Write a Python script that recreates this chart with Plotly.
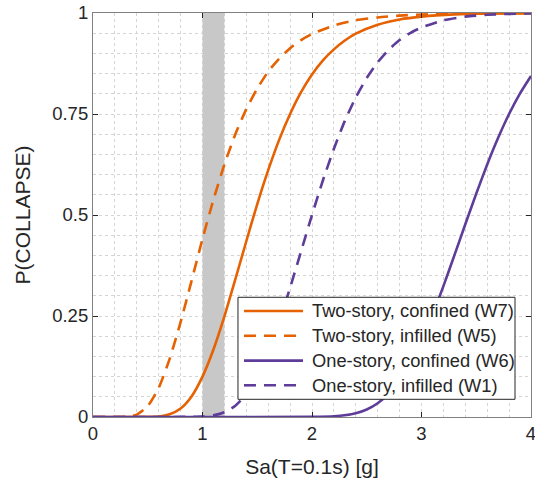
import plotly.graph_objects as go

# ---- data ----
x_w7 = [0.0, 0.5, 0.6, 0.7, 0.8, 0.9, 1.0, 1.1, 1.2, 1.3, 1.4, 1.5, 1.6, 1.7, 1.8, 1.9, 2.0,
        2.1, 2.2, 2.3, 2.4, 2.6, 2.8, 3.0, 3.3, 3.6, 4.0]
p_w7 = [0.0, 0.0002, 0.0014, 0.0067, 0.021, 0.051, 0.100, 0.167, 0.249, 0.341, 0.435, 0.527,
        0.611, 0.686, 0.750, 0.804, 0.848, 0.883, 0.910, 0.932, 0.949, 0.971, 0.984, 0.991,
        0.9965, 0.9986, 0.9996]

x_w5 = [0.0, 0.3, 0.4, 0.5, 0.6, 0.7, 0.8, 0.9, 1.0, 1.1, 1.2, 1.3, 1.4, 1.5, 1.6, 1.7, 1.8,
        1.9, 2.0, 2.2, 2.4, 2.6, 2.8, 3.0, 3.3, 3.6, 4.0]
p_w5 = [0.0, 0.0006, 0.006, 0.027, 0.072, 0.144, 0.235, 0.337, 0.441, 0.538, 0.625, 0.700,
        0.762, 0.813, 0.855, 0.887, 0.913, 0.933, 0.948, 0.969, 0.982, 0.989, 0.9936, 0.9962,
        0.998, 0.9991, 0.9997]

x_w6 = [0.0, 2.0, 2.2, 2.4, 2.5, 2.6, 2.7, 2.8, 2.9, 3.0, 3.1, 3.2, 3.3, 3.4, 3.5, 3.6, 3.7,
        3.8, 3.9, 4.0]
p_w6 = [0.0, 0.0002, 0.0017, 0.0094, 0.0187, 0.034, 0.058, 0.091, 0.135, 0.189, 0.253, 0.324,
        0.400, 0.477, 0.553, 0.625, 0.691, 0.750, 0.801, 0.844]

x_w1 = [0.0, 1.0, 1.1, 1.2, 1.3, 1.4, 1.5, 1.6, 1.7, 1.8, 1.9, 2.0, 2.1, 2.2, 2.3, 2.4, 2.5,
        2.6, 2.7, 2.8, 2.9, 3.0, 3.2, 3.4, 3.6, 3.8, 4.0]
p_w1 = [0.0, 0.001, 0.004, 0.0116, 0.028, 0.0565, 0.100, 0.161, 0.235, 0.320, 0.410, 0.500,
        0.586, 0.664, 0.733, 0.791, 0.839, 0.878, 0.909, 0.933, 0.951, 0.964, 0.982, 0.991,
        0.9955, 0.9978, 0.999]

names = ["Two-story, confined (W7)", "Two-story, infilled (W5)",
         "One-story, confined (W6)", "One-story, infilled (W1)"]
band = [1.0, 1.2]
y_tickvals = [0, 0.25, 0.5, 0.75, 1]
y_ticktext = ["0", "0.25", "0.5", "0.75", "1"]
x_tickvals = [0, 1, 2, 3, 4]

ORANGE = "#e66101"
PURPLE = "#5e3c99"
DASH = "12px,8px"
FONT = "Liberation Sans, Arial, sans-serif"
TXT = "#262626"

fig = go.Figure()
series = [(x_w7, p_w7, ORANGE, "solid"), (x_w5, p_w5, ORANGE, DASH),
          (x_w6, p_w6, PURPLE, "solid"), (x_w1, p_w1, PURPLE, DASH)]
for (xs, ps, col, dash), nm in zip(series, names):
    fig.add_trace(go.Scatter(x=xs, y=ps, mode="lines", name=nm, showlegend=False,
                             line=dict(color=col, width=2.6, dash=dash, shape="spline",
                                       smoothing=0.6),
                             cliponaxis=False, hoverinfo="skip"))

fig.add_shape(type="rect", xref="x", yref="y", x0=band[0], x1=band[1], y0=0, y1=1,
              fillcolor="#c8c8c8", line=dict(width=0), layer="between")

# ---- hand-built legend (paper coordinates) ----
lg_x0, lg_x1, lg_y0, lg_y1 = 0.331, 0.9635, 0.0438, 0.2963
row_y = [0.2624, 0.2010, 0.1396, 0.0785]
fig.add_shape(type="rect", xref="paper", yref="paper", x0=lg_x0, x1=lg_x1, y0=lg_y0, y1=lg_y1,
              fillcolor="white", line=dict(color=TXT, width=1), layer="above")
for (xs, ps, col, dash), nm, yy in zip(series, names, row_y):
    fig.add_shape(type="line", xref="paper", yref="paper", x0=0.3447, x1=0.4795, y0=yy, y1=yy,
                  line=dict(color=col, width=2.6, dash=dash), layer="above")
    fig.add_annotation(xref="paper", yref="paper", x=0.4954, y=yy, xanchor="left",
                       yanchor="middle", text=nm, showarrow=False,
                       font=dict(family=FONT, size=18.3, color=TXT))

grid = "#d4d4d4"
axis_font = dict(family=FONT, size=18.5, color=TXT)
title_font = dict(family=FONT, size=21, color=TXT)
fig.update_xaxes(range=[0, 4], tickvals=x_tickvals, showgrid=True, gridcolor=grid,
                 griddash="dot", gridwidth=1,
                 minor=dict(dtick=0.2, showgrid=True, gridcolor=grid, griddash="dot",
                            gridwidth=1, ticks=""),
                 showline=True, linecolor="#808080", linewidth=1.2, mirror="ticks",
                 ticks="inside", ticklen=5, tickcolor=TXT, zeroline=False,
                 tickfont=axis_font, ticklabeloverflow="allow", automargin=False,
                 title=dict(text="Sa(T=0.1s) [g]", font=title_font, standoff=16))
fig.update_yaxes(range=[0, 1], tickvals=y_tickvals, ticktext=y_ticktext, showgrid=True,
                 gridcolor=grid, griddash="dot", gridwidth=1,
                 minor=dict(dtick=0.05, showgrid=True, gridcolor=grid, griddash="dot",
                            gridwidth=1, ticks=""),
                 showline=True, linecolor="#808080", linewidth=1.2, mirror="ticks",
                 ticks="inside", ticklen=5, tickcolor=TXT, zeroline=False,
                 tickfont=axis_font, ticklabeloverflow="allow", automargin=False,
                 title=dict(text="P(COLLAPSE)", font=title_font, standoff=15))

fig.update_layout(width=535, height=482, margin=dict(l=93, r=4, t=13, b=65, autoexpand=False),
                  plot_bgcolor="white", paper_bgcolor="white", showlegend=False,
                  hovermode=False)

fig.write_html("out.html", config={"displayModeBar": False},
               post_script="document.body.style.margin='0';")
